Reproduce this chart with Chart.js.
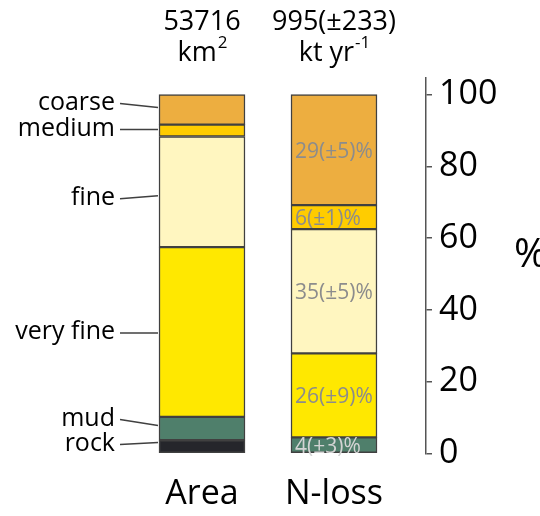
<!DOCTYPE html>
<html>
<head>
<meta charset="utf-8">
<script src="https://cdn.jsdelivr.net/npm/chart.js@4"></script>
<style>
  html, body { margin: 0; padding: 0; background: #fff; }
  #wrap { width: 540px; height: 516px; }
</style>
</head>
<body>
<div id="wrap"><canvas id="chart" width="540" height="516"></canvas></div>
<script>
// Data (bottom to top of each stack)
const categories = ['Area', 'N-loss'];
const classes = ['rock', 'mud', 'very fine', 'fine', 'medium', 'coarse'];
const areaShare = [3.7, 6.5, 47.3, 30.8, 3.3, 8.4];
const nLossShare = [0, 4.5, 23.4, 34.6, 6.7, 30.8];
const nLossText = ['', '4(±3)%', '26(±9)%', '35(±5)%', '6(±1)%', '29(±5)%'];
const totals = ['53716', '995(±233)'];
const units = [['km', '2'], ['kt yr', '-1']];
const yTicks = [0, 20, 40, 60, 80, 100];

const classColors = ['#25262b', '#4f7f6b', '#ffe800', '#fff6c0', '#ffcc00', '#edae40'];
const FONT = "'Open Sans', sans-serif";
const EDGE = '#404040';

// label layout for the left-hand class names (offsets from segment middle)
const leftLabelDy = [-3, -10, 0, 6, -2, -7];
const leftLineDy = [-4, -3, 1, 4, -1, -2];

const datasets = classes.map((name, i) => ({
  label: name,
  data: [{ x: 0, y: areaShare[i] }, { x: 1, y: nLossShare[i] }],
  backgroundColor: classColors[i],
  borderColor: EDGE,
  borderWidth: 1.5,
  borderSkipped: false,
  barThickness: 86
}));

const annotate = {
  id: 'annotate',
  afterDatasetsDraw(chart) {
    const ctx = chart.ctx;
    const xs = chart.scales.x;
    ctx.save();

    // class names + leader lines for the Area bar
    ctx.font = '25px ' + FONT;
    ctx.textAlign = 'right';
    ctx.textBaseline = 'middle';
    ctx.strokeStyle = EDGE;
    ctx.lineWidth = 1.5;
    classes.forEach((name, i) => {
      const bar = chart.getDatasetMeta(i).data[0];
      const mid = (bar.y + bar.base) / 2;
      const left = bar.x - bar.width / 2;
      const ly = mid + leftLabelDy[i];
      ctx.fillStyle = '#000';
      ctx.fillText(name, 115, ly);
      ctx.beginPath();
      ctx.moveTo(120, ly + 1);
      ctx.lineTo(left - 1, mid + leftLineDy[i]);
      ctx.stroke();
    });

    // share labels inside the N-loss bar
    ctx.font = '21px ' + FONT;
    ctx.textAlign = 'left';
    classes.forEach((name, i) => {
      if (!nLossText[i]) return;
      const bar = chart.getDatasetMeta(i).data[1];
      const mid = (bar.y + bar.base) / 2;
      const left = bar.x - bar.width / 2;
      ctx.fillStyle = i === 1 ? '#d4d4d4' : '#8c8c8c';
      ctx.fillText(nLossText[i], left + 4, mid + 2);
    });

    // totals and units above each bar
    ctx.fillStyle = '#000';
    categories.forEach((c, i) => {
      const cx = xs.getPixelForValue(i);
      ctx.textAlign = 'center';
      ctx.font = '27px ' + FONT;
      ctx.fillText(totals[i], cx, 22);
      const base = units[i][0], sup = units[i][1];
      const wb = ctx.measureText(base).width;
      ctx.font = '17px ' + FONT;
      const ws = ctx.measureText(sup).width;
      const x0 = cx - (wb + ws) / 2;
      ctx.textAlign = 'left';
      ctx.font = '27px ' + FONT;
      ctx.fillText(base, x0, 53);
      ctx.font = '17px ' + FONT;
      ctx.fillText(sup, x0 + wb + 1, 43);
    });

    // axis title
    ctx.font = '40px ' + FONT;
    ctx.textAlign = 'left';
    ctx.fillText('%', 514, 256);
    ctx.restore();
  }
};

new Chart(document.getElementById('chart'), {
  type: 'bar',
  data: { datasets },
  options: {
    responsive: false,
    animation: false,
    layout: { padding: { left: 136, top: 78, right: 0, bottom: 0 } },
    plugins: { legend: { display: false }, tooltip: { enabled: false } },
    scales: {
      x: {
        type: 'linear',
        stacked: true,
        offset: false,
        min: -0.5,
        max: 1.697,
        grid: { display: false, drawTicks: false },
        border: { display: false },
        afterBuildTicks: (s) => { s.ticks = categories.map((c, i) => ({ value: i })); },
        afterFit: (s) => { s.height = 62.5; },
        ticks: {
          color: '#000',
          padding: 20,
          font: { family: FONT, size: 34 },
          callback: (v) => categories[v]
        }
      },
      y: {
        position: 'right',
        stacked: true,
        min: 0,
        max: 104.6,
        afterBuildTicks: (s) => { s.ticks = yTicks.map(v => ({ value: v })); },
        afterFit: (s) => { s.width = 114; },
        grid: { drawOnChartArea: false, color: '#555', lineWidth: 1.5, tickLength: 6 },
        border: { color: '#555', width: 1.5 },
        ticks: {
          color: '#000',
          padding: 7,
          font: { family: FONT, size: 34 }
        }
      }
    }
  },
  plugins: [annotate]
});
</script>
</body>
</html>
